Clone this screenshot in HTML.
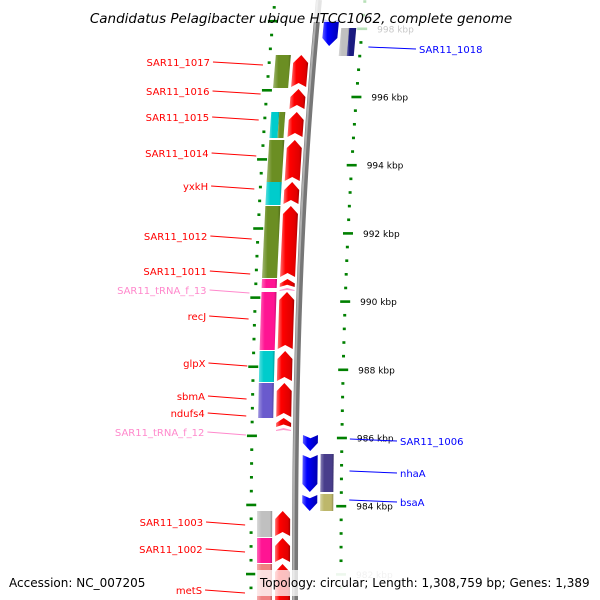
<!DOCTYPE html>
<html><head><meta charset="utf-8"><style>
html,body{margin:0;padding:0;background:#fff;}
svg{display:block;font-family:"DejaVu Sans","Liberation Sans",sans-serif;}
</style></head><body>
<svg id="map" width="600" height="600" viewBox="0 0 600 600">
<defs>
<linearGradient id="gRed" x1="0" x2="1" y1="0" y2="0"><stop offset="0" stop-color="#ff7070"/><stop offset="0.3" stop-color="#ff0000"/><stop offset="0.85" stop-color="#e00000"/><stop offset="1" stop-color="#a00000"/></linearGradient>
<linearGradient id="gBlue" x1="0" x2="1" y1="0" y2="0"><stop offset="0" stop-color="#6060ff"/><stop offset="0.3" stop-color="#0000ff"/><stop offset="1" stop-color="#0000b0"/></linearGradient>
<linearGradient id="gShade" x1="0" x2="1" y1="0" y2="0"><stop offset="0" stop-color="#fff" stop-opacity="0.35"/><stop offset="0.3" stop-color="#fff" stop-opacity="0"/><stop offset="0.85" stop-color="#000" stop-opacity="0"/><stop offset="1" stop-color="#000" stop-opacity="0.25"/></linearGradient>
</defs>
<g id="layer"></g>
<text x="301" y="23" text-anchor="middle" font-size="13.5" font-style="italic" fill="#000">Candidatus Pelagibacter ubique HTCC1062, complete genome</text>
<rect x="255" y="570" width="345" height="26" fill="#fff" fill-opacity="0.75"/>
<text x="9" y="587" font-size="12" fill="#000">Accession: NC_007205</text>
<text x="260" y="587" font-size="12" fill="#000">Topology: circular; Length: 1,308,759 bp; Genes: 1,389</text>
</svg>
<script>
const leftNames = ["SAR11_1017","SAR11_1016","SAR11_1015","SAR11_1014","yxkH","SAR11_1012","SAR11_1011","SAR11_tRNA_f_13","recJ","glpX","sbmA","ndufs4","SAR11_tRNA_f_12","SAR11_1003","SAR11_1002","metS"];
const leftStart = [55,89,112,140,182,206,279,288,292,351,383,418,428,511,538,564];
const leftEnd   = [88,110,138,182,205,278,288,292,350,382,418,428,432,537,563,610];
const leftLabelY = [62,91,117,153,186,236,271,290,316,363,396,413,432,522,549,590];
const leftCog = ["#6b8e23",null,"#00cccc","#6b8e23","#00cccc","#6b8e23","#ff1493",null,"#ff1493","#00cccc","#6a5acd",null,null,"#c0c0c0","#ff1493","#f08080"];
const rightNames = ["SAR11_1018","SAR11_1006","nhaA","bsaA"];
const rightStart = [18,434,454,494];
const rightEnd   = [46,451,492,511];
const rightLabelY = [49,441,473,502];
const rightCog = ["#1a1a80",null,"#483d8b","#bdb76b"];
const kbpTicks = [998,996,994,992,990,988,986,984,982];

const layer = document.getElementById('layer');
const NS = 'http://www.w3.org/2000/svg';
function bx(y){ return 295 + 22*Math.pow(Math.max(0,(600-y))/580, 2.5); }
function ky(kb){ return 97 + (996-kb)*34.1; }
function mk(tag, attrs){ const e=document.createElementNS(NS,tag); for(const k in attrs) e.setAttribute(k,attrs[k]); layer.appendChild(e); return e; }

for(let i=0;i<=50;i++){
  const kb=999.2-i*0.4;
  const y=ky(kb); if(y<-5||y>605) continue;
  const major=Math.abs(kb/2-Math.round(kb/2))<0.01;
  const faded = (y<40||y>570);
  const col = faded ? "#b8e0b8" : "#008000";
  const w=major?10:3;
  const t=mk('rect',{x:bx(y)+46-w/2,y:y-1.3,width:w,height:2.6,fill:col});
  
  
  const yl=y-8+(y/600)*8;
  const t2=mk('rect',{x:bx(yl)-44-w/2,y:yl-1.3,width:w,height:2.6,fill:"#008000"});
  
  
}
kbpTicks.forEach(kb=>{
  const y=ky(kb); const faded=(y<40||y>570);
  const t=mk('text',{x:bx(y)+61,y:y+3.5,'font-size':9,fill:faded?"#c8c8c8":"#000"});
  t.textContent=kb+" kbp";
  
  
});

let d="";
for(let y=0;y<=600;y+=10){ d+=(y?"L":"M")+bx(y).toFixed(2)+" "+y+" "; }
const bb=mk('path',{d:d,stroke:"#777",'stroke-width':6,fill:'none'});


const bb2=mk('path',{d:d,stroke:"#b0b0b0",'stroke-width':2,fill:'none',transform:'translate(-1.5,0)'});



function block(y0,y1,o0,o1,fill,name){
  const p=[[bx(y0)+o0,y0],[bx(y0)+o1,y0],[bx(y1)+o1,y1],[bx(y1)+o0,y1]];
  const e=mk('polygon',{points:p.map(q=>q.join(',')).join(' '),fill:fill});
  
  
  mk('polygon',{points:p.map(q=>q.join(',')).join(' '),fill:"url(#gShade)"});
}
function arrow(y0,y1,o0,o1,fill,up,name){
  const h=Math.min(8,(y1-y0)*0.5); let p;
  if(up){ p=[[bx(y0)+(o0+o1)/2,y0],[bx(y0+h)+o1,y0+h],[bx(y1)+o1,y1-1],[bx(y1)+(o0+o1)/2,y1-1-h*0.5],[bx(y1)+o0,y1-1],[bx(y0+h)+o0,y0+h]]; }
  else { p=[[bx(y0)+o0,y0+1],[bx(y0)+(o0+o1)/2,y0+1+h*0.4],[bx(y0)+o1,y0+1],[bx(y1-h)+o1,y1-h],[bx(y1)+(o0+o1)/2,y1],[bx(y1-h)+o0,y1-h]]; }
  const e=mk('polygon',{points:p.map(q=>q.join(',')).join(' '),fill:fill});
  
  
}

leftNames.forEach((n,i)=>{
  const y0=leftStart[i], y1=leftEnd[i];
  const trna=n.indexOf('tRNA')>=0;
  if(leftCog[i]){
    if(n==="SAR11_1015"){ block(y0,y1,-38,-30,"#00cccc","cog-"+n); block(y0,y1,-30,-24,"#6b8e23","cog2-"+n); }
    else block(y0,y1,-38,-23,leftCog[i],"cog-"+n);
  }
  arrow(y0,y1,-20,-5,trna?"#ff99cc":"url(#gRed)",true,"gene-"+n);
  const col=trna?"#ff88cc":"#ff0000";
  const ly=leftLabelY[i];
  const tx=210-(ly-60)*0.015;
  const t=mk('text',{x:tx,y:ly+4,'text-anchor':'end','font-size':10,fill:col});
  t.textContent=n;
  
  
  const ln=mk('line',{x1:tx+3,y1:ly,x2:bx(ly+3)-50,y2:ly+3,stroke:col,'stroke-width':1});
  
  
});

rightNames.forEach((n,i)=>{
  const y0=rightStart[i], y1=rightEnd[i];
  arrow(y0,y1,7,22,"url(#gBlue)",false,"gene-"+n);
  if(rightCog[i]){
    if(n==="SAR11_1018"){ block(y0+10,y1+10,25,33,"#c0c0c0","cog2-"+n); block(y0+10,y1+10,33,40,"#1a1a80","cog-"+n); }
    else block(y0,y1,25,38,rightCog[i],"cog-"+n);
  }
  const ly=rightLabelY[i];
  const tx=n==="SAR11_1018"?419:400;
  const t=mk('text',{x:tx,y:ly+4,'font-size':10,fill:"#0000ff"});
  t.textContent=n;
  
  
  const ln=mk('line',{x1:bx(ly)+54,y1:ly-2,x2:tx-3,y2:ly,stroke:"#0000ff",'stroke-width':1});
  
  
});
const f=mk('rect',{x:300,y:0,width:60,height:22,fill:'#fff','fill-opacity':0.8});


</script>
</body></html>
